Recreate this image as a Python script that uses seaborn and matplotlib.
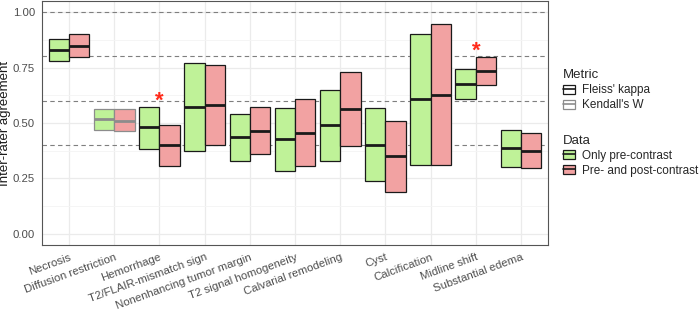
import numpy as np
import pandas as pd
import matplotlib
matplotlib.use("Agg")
import matplotlib.pyplot as plt
import seaborn as sns
from matplotlib.patches import Patch
from matplotlib.lines import Line2D

# data
features = ["Necrosis", "Diffusion restriction", "Hemorrhage", "T2/FLAIR-mismatch sign",
            "Nonenhancing tumor margin", "T2 signal homogeneity", "Calvarial remodeling",
            "Cyst", "Calcification", "Midline shift", "Substantial edema"]
metric = ["Fleiss' kappa", "Kendall's W", "Fleiss' kappa", "Fleiss' kappa", "Fleiss' kappa",
          "Fleiss' kappa", "Fleiss' kappa", "Fleiss' kappa", "Fleiss' kappa", "Fleiss' kappa",
          "Fleiss' kappa"]

pre_lo = [0.778, 0.468, 0.384, 0.372, 0.330, 0.283, 0.330, 0.237, 0.310, 0.609, 0.301]
pre_mid = [0.829, 0.516, 0.480, 0.573, 0.436, 0.426, 0.490, 0.403, 0.607, 0.676, 0.387]
pre_hi = [0.880, 0.562, 0.571, 0.772, 0.540, 0.568, 0.650, 0.568, 0.901, 0.745, 0.469]

post_lo = [0.799, 0.462, 0.306, 0.400, 0.358, 0.307, 0.397, 0.189, 0.310, 0.672, 0.295]
post_mid = [0.848, 0.511, 0.399, 0.580, 0.466, 0.456, 0.564, 0.352, 0.627, 0.735, 0.375]
post_hi = [0.900, 0.562, 0.492, 0.760, 0.574, 0.607, 0.730, 0.510, 0.945, 0.796, 0.454]

significant = ["Hemorrhage", "Midline shift"]

groups = ["Only pre-contrast", "Pre- and post-contrast"]
group_colors = {"Only pre-contrast": "#bff298", "Pre- and post-contrast": "#f2a2a2"}
metric_colors = {"Fleiss' kappa": "#1a1a1a", "Kendall's W": "#8c8c8c"}

df = pd.concat([
    pd.DataFrame({"feature": features, "metric": metric, "lo": pre_lo, "mid": pre_mid,
                  "hi": pre_hi, "data": groups[0]}),
    pd.DataFrame({"feature": features, "metric": metric, "lo": post_lo, "mid": post_mid,
                  "hi": post_hi, "data": groups[1]}),
])

sns.set_style("whitegrid")
plt.rcParams['font.family'] = ['Liberation Sans', 'DejaVu Sans']

fig = plt.figure(figsize=(7, 3.09), dpi=100)
ax = fig.add_axes([0.06, 0.207, 0.723, 0.79])

pos = {f: i for i, f in enumerate(features)}
width = 0.45
for k, g in enumerate(groups):
    sub = df[df["data"] == g]
    x = sub["feature"].map(pos).to_numpy() + (k - 0.5) * width
    edges = [metric_colors[m] for m in sub["metric"]]
    ax.bar(x, sub["hi"] - sub["lo"], bottom=sub["lo"], width=width,
           color=group_colors[g], edgecolor=edges, linewidth=0.9, zorder=3)
    ax.hlines(sub["mid"], x - width / 2, x + width / 2, colors=edges, linewidth=2, zorder=4)

# significance markers
for f in significant:
    i = pos[f]
    top = max(pre_hi[i], post_hi[i])
    ax.text(i, top + 0.027, "*", color="#ff2a1a", fontsize=16, ha="center", va="center",
            fontweight="bold", zorder=5)

for h in [0.4, 0.6, 0.8, 1.0]:
    ax.axhline(h, color="#7f7f7f", linestyle=(0, (4, 3)), linewidth=0.8, zorder=2)

ax.set_xlim(-0.6, len(features) - 0.4)
ax.set_ylim(-0.05, 1.05)
ax.set_yticks([0, 0.25, 0.5, 0.75, 1.0])
ax.set_yticklabels(["0.00", "0.25", "0.50", "0.75", "1.00"])
ax.set_yticks([0.125, 0.375, 0.625, 0.875], minor=True)
ax.set_xticks(range(len(features)))
ax.set_xticklabels(features, rotation=20, ha="right", rotation_mode="anchor")
ax.grid(True, which="major", color="#ebebeb", linewidth=0.9, zorder=0)
ax.grid(True, which="minor", axis="y", color="#f4f4f4", linewidth=0.6, zorder=0)
ax.set_axisbelow(True)
ax.tick_params(axis="both", which="major", length=3, width=0.7, color="#333333",
               labelsize=8.2, labelcolor="#4d4d4d", pad=2)
ax.tick_params(axis="y", which="minor", length=0)
for s in ax.spines.values():
    s.set_color("#555555")
    s.set_linewidth(0.8)
ax.set_xlabel("")
ax.set_ylabel("Inter-rater agreement", fontsize=9.5, color="#1a1a1a", labelpad=1)

# legends
metric_handles = [(Patch(facecolor="white", edgecolor=metric_colors[m], linewidth=0.9),
                   Line2D([0], [0], color=metric_colors[m], linewidth=1.2))
                  for m in ["Fleiss' kappa", "Kendall's W"]]
leg1 = fig.legend(metric_handles, ["Fleiss' kappa", "Kendall's W"], title="Metric",
                  loc="upper left", bbox_to_anchor=(0.789, 0.81), frameon=False,
                  fontsize=8.5, title_fontsize=9.5, alignment="left",
                  handlelength=1.0, handleheight=0.8, handletextpad=0.6, labelspacing=0.25)
data_handles = [(Patch(facecolor=group_colors[g], edgecolor="#1a1a1a", linewidth=0.9),
                 Line2D([0], [0], color="#1a1a1a", linewidth=1.2)) for g in groups]
leg2 = fig.legend(data_handles, groups, title="Data",
                  loc="upper left", bbox_to_anchor=(0.789, 0.598), frameon=False,
                  fontsize=8.5, title_fontsize=9.5, alignment="left",
                  handlelength=1.0, handleheight=0.8, handletextpad=0.6, labelspacing=0.25)

fig.savefig("out.png", dpi=100)
